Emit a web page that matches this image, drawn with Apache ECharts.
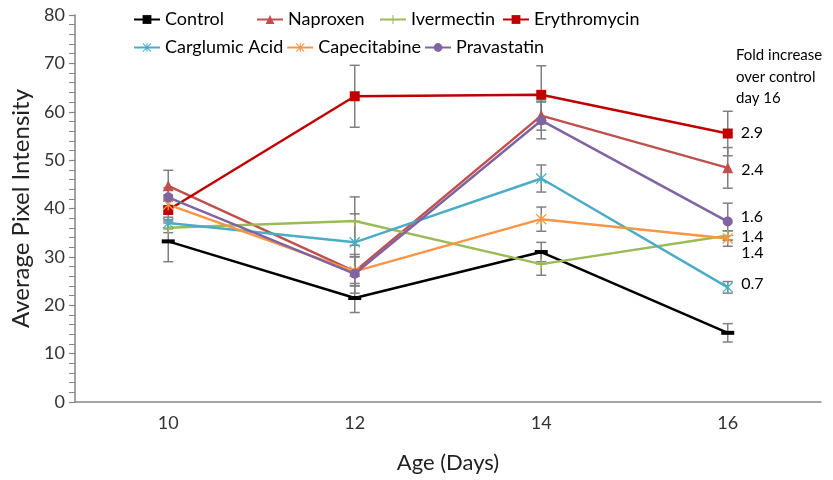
<!DOCTYPE html>
<html>
<head>
<meta charset="utf-8">
<script src="https://cdn.jsdelivr.net/npm/echarts@6/dist/echarts.min.js"></script>
<style>
html, body { margin: 0; padding: 0; background: #fff; }
#chart { width: 833px; height: 480px; }
</style>
</head>
<body>
<div id="chart"></div>
<script>
// Age in days (x categories)
const days = ['10', '12', '14', '16'];

// Mean pixel intensity per treatment
const control      = [33.2, 21.5, 31.0, 14.3];
const naproxen     = [44.7, 27.0, 59.2, 48.4];
const ivermectin   = [36.0, 37.4, 28.5, 34.4];
const erythromycin = [39.7, 63.2, 63.5, 55.5];
const carglumic    = [37.0, 33.0, 46.2, 23.7];
const capecitabine = [40.8, 27.0, 37.8, 33.8];
const pravastatin  = [42.3, 26.5, 58.2, 37.3];

// Error (± half-range) per treatment
const controlErr      = [4.2, 3.0, 2.0, 1.9];
const naproxenErr     = [3.2, 3.0, 3.0, 4.2];
const ivermectinErr   = [1.0, 5.0, 2.3, 1.0];
const erythromycinErr = [2.0, 6.4, 6.0, 4.6];
const carglumicErr    = [1.2, 5.9, 2.8, 1.2];
const capecitabineErr = [2.0, 3.0, 2.5, 1.6];
const pravastatinErr  = [2.0, 4.0, 3.8, 3.8];

// Fold increase over control at day 16
const foldLabels = {
  'Erythromycin': '2.9',
  'Naproxen': '2.4',
  'Pravastatin': '1.6',
  'Ivermectin': '1.4',
  'Capecitabine': '1.4',
  'Carglumic Acid': '0.7'
};
const foldNote = ['Fold increase', 'over control', 'day 16'];

// legend rows
const legendRow1 = ['Control', 'Naproxen', 'Ivermectin', 'Erythromycin'];
const legendRow2 = ['Carglumic Acid', 'Capecitabine', 'Pravastatin'];

const FONT = 'Lato, "Open Sans", sans-serif';

// marker shapes
const dashPath = 'path://M0,0H14V4H0Z';
const plusPath = 'path://M4.4,0H5.6V10H4.4Z M0,4.4H10V5.6H0Z';
const starPath = 'path://M0.8,0L10,9.2L9.2,10L0,0.8Z M9.2,0L10,0.8L0.8,10L0,9.2Z M4.4,0H5.6V10H4.4Z';

const treatments = [
  { name: 'Control',        values: control,      err: controlErr,      color: '#000000', symbol: dashPath,   size: [13, 4], dy: 0 },
  { name: 'Naproxen',       values: naproxen,     err: naproxenErr,     color: '#c0504d', symbol: 'triangle', size: 11, dy: 2 },
  { name: 'Ivermectin',     values: ivermectin,   err: ivermectinErr,   color: '#9bbb59', symbol: plusPath,   size: 11, dy: 1 },
  { name: 'Erythromycin',   values: erythromycin, err: erythromycinErr, color: '#c00000', symbol: 'rect',     size: 10, dy: -1 },
  { name: 'Carglumic Acid', values: carglumic,    err: carglumicErr,    color: '#4bacc6', symbol: starPath,   size: 11, dy: -4 },
  { name: 'Capecitabine',   values: capecitabine, err: capecitabineErr, color: '#f79646', symbol: starPath,   size: 11, dy: 14 },
  { name: 'Pravastatin',    values: pravastatin,  err: pravastatinErr,  color: '#8064a2', symbol: 'circle',   size: 10, dy: -5 }
];

function errorBarSeries(t) {
  return {
    type: 'custom',
    name: t.name + ' error',
    z: 1,
    silent: true,
    renderItem: function (params, api) {
      const x = api.value(0);
      const lo = api.coord([x, api.value(1)]);
      const hi = api.coord([x, api.value(2)]);
      const hw = 5;
      const style = { stroke: '#808080', lineWidth: 1.5 };
      return {
        type: 'group',
        children: [
          { type: 'line', shape: { x1: lo[0], y1: lo[1], x2: hi[0], y2: hi[1] }, style: style },
          { type: 'line', shape: { x1: lo[0] - hw, y1: lo[1], x2: lo[0] + hw, y2: lo[1] }, style: style },
          { type: 'line', shape: { x1: hi[0] - hw, y1: hi[1], x2: hi[0] + hw, y2: hi[1] }, style: style }
        ]
      };
    },
    data: t.values.map((v, i) => [i, v - t.err[i], v + t.err[i]])
  };
}

function lineSeries(t) {
  const last = t.values.length - 1;
  const fold = foldLabels[t.name];
  return {
    type: 'line',
    name: t.name,
    z: 3,
    color: t.color,
    symbol: t.symbol,
    symbolSize: t.size,
    showAllSymbol: true,
    lineStyle: { width: 2.5, color: t.color },
    itemStyle: { color: t.color },
    emphasis: { disabled: true },
    data: t.values.map((v, i) => {
      if (i === last && fold) {
        return {
          value: v,
          label: {
            show: true,
            position: 'right',
            distance: 8,
            offset: [0, t.dy],
            formatter: fold,
            color: '#000',
            fontFamily: FONT,
            fontSize: 16
          }
        };
      }
      return v;
    })
  };
}

const chart = echarts.init(document.getElementById('chart'), null, { renderer: 'canvas' });

const legendBase = {
  left: 128,
  width: 600,
  itemWidth: 26,
  itemHeight: 11,
  itemGap: 3,
  selectedMode: false
};

const option = {
  animation: false,
  backgroundColor: '#fff',
  grid: { left: 75, right: 12, top: 15, bottom: 78 },
  legend: [
    Object.assign({}, legendBase, {
      top: 2,
      data: legendRow1,
      textStyle: { fontFamily: FONT, fontSize: 18, color: '#000', width: 88, lineHeight: 25 }
    }),
    Object.assign({}, legendBase, {
      top: 30,
      data: legendRow2,
      textStyle: { fontFamily: FONT, fontSize: 18, color: '#000', lineHeight: 25 }
    })
  ],
  xAxis: [
    {
      type: 'category',
      data: days,
      boundaryGap: true,
      name: 'Age (Days)',
      nameLocation: 'middle',
      nameGap: 50,
      nameTextStyle: { fontFamily: FONT, fontSize: 22, color: '#222' },
      axisLine: { lineStyle: { color: '#868686', width: 1.5 } },
      axisTick: { length: 7, lineStyle: { color: '#868686', width: 1.2 } },
      axisLabel: { fontFamily: FONT, fontSize: 18, color: '#333', margin: 12 }
    },
    {
      type: 'category',
      data: days,
      boundaryGap: true,
      position: 'bottom',
      axisLine: { show: false },
      axisTick: { inside: true, length: 7, lineStyle: { color: '#868686', width: 1.2 } },
      axisLabel: { show: false }
    }
  ],
  yAxis: {
    type: 'value',
    min: 0,
    max: 80,
    interval: 10,
    name: 'Average Pixel Intensity',
    nameLocation: 'middle',
    nameGap: 37,
    nameTextStyle: { fontFamily: FONT, fontSize: 24, color: '#222' },
    axisLine: { show: true, lineStyle: { color: '#868686', width: 1.5 } },
    axisTick: { show: true, length: 6, lineStyle: { color: '#868686', width: 1.2 } },
    minorTick: { show: true, splitNumber: 5, length: 6, lineStyle: { color: '#868686', width: 1 } },
    splitLine: { show: false },
    axisLabel: { fontFamily: FONT, fontSize: 18, color: '#333', margin: 10 }
  },
  graphic: foldNote.map((line, i) => ({
    type: 'text',
    left: 736,
    top: 48 + i * 21.5,
    style: { text: line, fontFamily: FONT, fontSize: 15, fill: '#000' }
  })),
  series: treatments.map(errorBarSeries).concat(treatments.map(lineSeries))
};

chart.setOption(option);
</script>
</body>
</html>
